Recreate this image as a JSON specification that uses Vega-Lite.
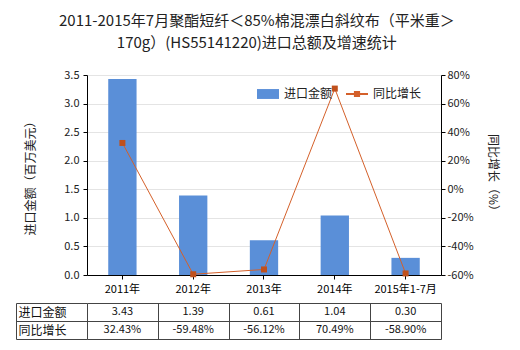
{
  "$schema": "https://vega.github.io/schema/vega-lite/v6.json",
  "padding": {"left": 15, "top": 14, "right": 5, "bottom": 2},
  "title": {
    "text": ["2011-2015年7月聚酯短纤＜85%棉混漂白斜纹布（平米重＞", "170g）(HS55141220)进口总额及增速统计"],
    "fontSize": 15,
    "fontWeight": "normal",
    "lineHeight": 22,
    "anchor": "middle",
    "color": "#222",
    "offset": 18
  },
  "datasets": {
    "trade": [
      {"year": "2011年", "amount": 3.43, "growth": 0.3243},
      {"year": "2012年", "amount": 1.39, "growth": -0.5948},
      {"year": "2013年", "amount": 0.61, "growth": -0.5612},
      {"year": "2014年", "amount": 1.04, "growth": 0.7049},
      {"year": "2015年1-7月", "amount": 0.30, "growth": -0.589}
    ]
  },
  "bounds": "flush",
  "spacing": 28,
  "resolve": {"scale": {"color": "independent"}},
  "vconcat": [
    {
      "width": 354,
      "height": 200,
      "data": {"name": "trade"},
      "encoding": {
        "x": {
          "field": "year",
          "type": "nominal",
          "sort": null,
          "scale": {"paddingInner": 0.6, "paddingOuter": 0.3},
          "axis": {"title": null, "labelAngle": 0, "tickSize": 4, "domainColor": "#000", "tickColor": "#000", "labelColor": "#000", "labelFontSize": 11, "labelPadding": 4}
        }
      },
      "layer": [
        {
          "mark": {"type": "bar"},
          "encoding": {
            "y": {
              "field": "amount",
              "type": "quantitative",
              "scale": {"domain": [0, 3.5]},
              "axis": {
                "title": "进口金额（百万美元）",
                "values": [0, 0.5, 1, 1.5, 2, 2.5, 3, 3.5],
                "format": ".1f",
                "grid": true,
                "gridColor": "#e4e4e4",
                "domainColor": "#000",
                "tickColor": "#000",
                "tickSize": 4,
                "labelPadding": 4,
                "titlePadding": 26
              }
            },
            "color": {
              "datum": "进口金额",
              "type": "nominal",
              "scale": {"domain": ["进口金额", "同比增长"], "range": ["#5a8fd8", "#d4602a"]},
              "legend": {
                "title": null,
                "orient": "none",
                "legendX": 170,
                "legendY": 8,
                "direction": "horizontal",
                "labelFontSize": 12,
                "labelColor": "#222",
                "symbolSize": 484,
                "labelOffset": 5,
                "columnPadding": 13,
                "encode": {
                  "symbols": {
                    "update": {
                      "shape": {"signal": "datum.value == '进口金额' ? 'M-1,-0.45H1V0.45H-1Z' : 'M-1,-0.1H1V0.1H-1Z M-0.28,-0.28H0.28V0.28H-0.28Z'"},
                      "fill": {"signal": "datum.value == '进口金额' ? '#5a8fd8' : '#c8531c'"},
                      "stroke": {"value": "transparent"},
                      "strokeWidth": {"value": 0},
                      "opacity": {"value": 1},
                      "fillOpacity": {"value": 1}
                    }
                  }
                }
              }
            }
          }
        },
        {
          "encoding": {
            "y": {
              "field": "growth",
              "type": "quantitative",
              "scale": {"domain": [-0.6, 0.8]},
              "axis": {
                "orient": "right",
                "title": "同比增长（%）",
                "values": [-0.6, -0.4, -0.2, 0, 0.2, 0.4, 0.6, 0.8],
                "format": ".0%",
                "grid": false,
                "domainColor": "#000",
                "tickColor": "#000",
                "tickSize": 4,
                "labelPadding": 2,
                "titlePadding": 12
              }
            }
          },
          "layer": [
            {
              "mark": {"type": "line", "strokeWidth": 1},
              "encoding": {"color": {"datum": "同比增长", "type": "nominal"}}
            },
            {
              "mark": {"type": "point", "shape": "square", "filled": true, "size": 36, "color": "#c0501c", "opacity": 1}
            }
          ]
        }
      ],
      "resolve": {"scale": {"y": "independent"}}
    },
    {
      "width": 354,
      "height": 36,
      "data": {"name": "trade"},
      "encoding": {
        "x": {
          "field": "year",
          "type": "nominal",
          "sort": null,
          "axis": {"title": null, "labels": false, "ticks": false, "domain": false, "grid": true, "tickBand": "extent", "gridColor": "#444", "gridOpacity": 1}
        }
      },
      "layer": [
        {
          "mark": {"type": "text", "fontSize": 11, "color": "#111"},
          "encoding": {
            "y": {
              "datum": "进口金额",
              "type": "nominal",
              "scale": {"domain": ["进口金额", "同比增长"]},
              "axis": {
                "title": null,
                "offset": 71,
                "tickBand": "extent",
                "tickSize": -71,
                "tickColor": "#444",
                "domainColor": "#444",
                "grid": true,
                "gridColor": "#444",
                "gridOpacity": 1,
                "labelAlign": "left",
                "labelPadding": 69,
                "labelFontSize": 12,
                "labelColor": "#111"
              }
            },
            "text": {"field": "amount", "type": "quantitative", "format": ".2f"}
          }
        },
        {
          "mark": {"type": "text", "fontSize": 11, "color": "#111"},
          "encoding": {
            "y": {"datum": "同比增长", "type": "nominal"},
            "text": {"field": "growth", "type": "quantitative", "format": ".2%"}
          }
        }
      ]
    }
  ],
  "config": {
    "font": "Noto Sans CJK SC",
    "view": {"stroke": null},
    "locale": {"number": {"decimal": ".", "thousands": ",", "grouping": [3], "currency": ["", ""], "minus": "-"}},
    "axis": {"labelFontSize": 11, "labelColor": "#222", "titleFontSize": 12, "titleFontWeight": "normal", "titleColor": "#222"}
  }
}
